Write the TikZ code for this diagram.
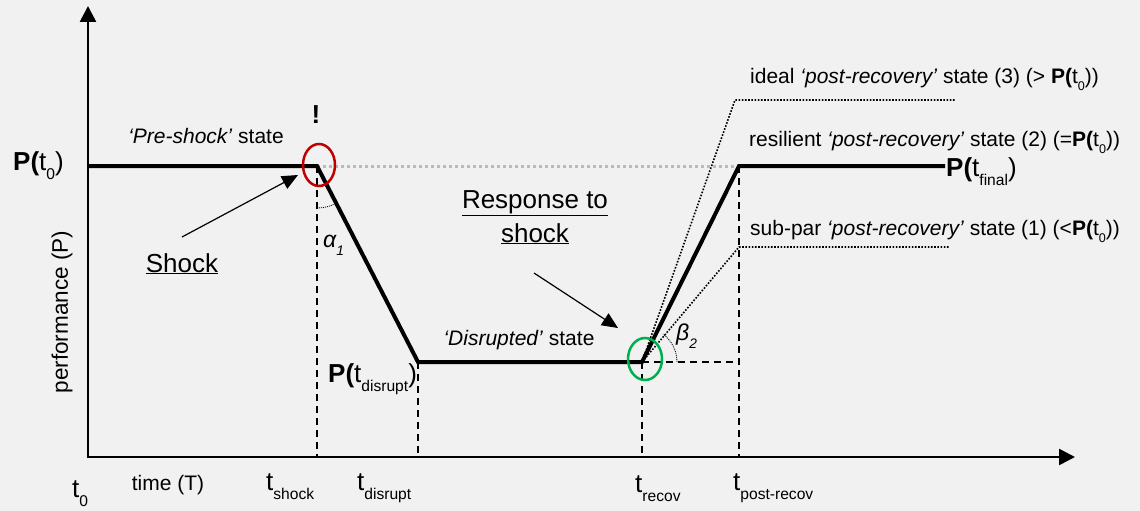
\documentclass[tikz,border=0pt]{standalone}
\usepackage{fontspec}
\setmainfont{Liberation Sans}
\usepackage{tikz}
\usetikzlibrary{arrows.meta,positioning}
\definecolor{bg}{HTML}{F1F1F1}
\definecolor{shockred}{HTML}{C00000}
\definecolor{recovgreen}{HTML}{00B050}
\newcommand{\lo}[1]{\raisebox{-0.35em}{\scalebox{0.6}{#1}}}
\tikzstyle{perf}=[line width=4pt]
\tikzstyle{axis}=[line width=2.6pt,
	{Triangle[length=16pt,width=16pt]}-{Triangle[length=16pt,width=16pt]}]
\tikzstyle{guide}=[line width=1.6pt,
	dash pattern=on 7pt off 5pt]
\tikzstyle{level}=[line width=3pt,
	draw=black!27,
	dash pattern=on 3pt off 3pt]
\tikzstyle{alt}=[line width=1.6pt,
	dash pattern=on 1.6pt off 1.6pt]
\tikzstyle{anglearc}=[line width=0.8pt,
	dash pattern=on 1pt off 1pt]
\tikzstyle{pointer}=[line width=1.2pt,
	-{Triangle[length=16pt,width=14pt]}]
\tikzstyle{ring}=[line width=2.5pt]
\tikzstyle{lbl}=[inner sep=0pt,
	font=\fontsize{21}{25}\selectfont]
\tikzstyle{biglbl}=[inner sep=0pt,
	font=\fontsize{26}{30}\selectfont]

\begin{document}
\begin{tikzpicture}[x=1pt,y=-1pt]
	\fill[bg] (0,0) rectangle (1140,511);
	\useasboundingbox (0,0) rectangle (1140,511);

	\coordinate (origin) at (88,457);
	\coordinate (ytip) at (88,6);
	\coordinate (xtip) at (1075,457);
	\coordinate (start) at (88,166);
	\coordinate (shock) at (317,166);
	\coordinate (disrupt) at (418,362);
	\coordinate (recov) at (642,362);
	\coordinate (post) at (739,166);
	\coordinate (final) at (945,166);
	\coordinate (ideal) at (735,100);
	\coordinate (idealend) at (955,100);
	\coordinate (subpar) at (739,247);
	\coordinate (subparend) at (950,247);

	% guides
	\draw[level] (shock) -- (post);
	\draw[guide] (shock) -- (shock |- origin);
	\draw[guide] (disrupt) -- (disrupt |- origin);
	\draw[guide] (recov) -- (recov |- origin);
	\draw[guide] (post) -- (post |- origin);
	\draw[guide] (recov) -- (post |- recov);
	\draw[alt] (recov) -- (ideal) -- (idealend);
	\draw[alt] (recov) -- (subpar) -- (subparend);
	\draw[anglearc] (shock) ++(90:42) arc[start angle=90,end angle=62.7,radius=42];
	\draw[anglearc] (recov) ++(0:35) arc[start angle=0,end angle=-53,radius=35];

	% axes and performance
	\draw[axis] (ytip) -- (origin) -- (xtip);
	\draw[perf] (start) -- (shock) -- (disrupt) -- (recov) -- (post) -- (final);
	\draw[ring, shockred] (319,165) ellipse [x radius=16, y radius=21];
	\draw[ring, recovgreen] (645,359) ellipse [x radius=17, y radius=21];

	% labels
	\node[lbl] (preshock) at (206,136) {\textit{‘Pre-shock’} state};
	\node[biglbl] (bang) at (316,115) {\textbf{!}};
	\node[biglbl, anchor=base east] (p0) at (64,170) {\textbf{P(}t\lo{0})};
	\node[biglbl, anchor=base] (shocklbl) at (182,272) {\underline{Shock}};
	\node[lbl, anchor=base west, font=\fontsize{23}{27}\selectfont] (alpha) at (323,247) {\textit{α\lo{1}}};
	\node[biglbl, anchor=base west] (pdisrupt) at (328,382) {\textbf{P(}t\lo{disrupt})};
	\node[biglbl, anchor=base] (response) at (535,208) {\underline{Response to}};
	\node[biglbl, anchor=base] (response2) at (535,242) {\underline{shock}};
	\node[lbl, anchor=base] (disrupted) at (519,345) {\textit{‘Disrupted’} state};
	\node[lbl, anchor=base west, font=\fontsize{23}{27}\selectfont] (beta) at (676,340) {\textit{β\lo{2}}};
	\node[biglbl, anchor=base west] (pfinal) at (946,176) {\textbf{P(}t\lo{final})};
	\node[lbl, anchor=base west] (idealstate) at (750,83) {ideal \textit{‘post-recovery’} state (3) (> \textbf{P(}t\lo{0}))};
	\node[lbl, anchor=base west] (resilient) at (749,146) {resilient \textit{‘post-recovery’} state (2) (=\textbf{P(}t\lo{0}))};
	\node[lbl, anchor=base west] (subparstate) at (750,235) {sub-par \textit{‘post-recovery’} state (1) (<\textbf{P(}t\lo{0}))};
	\node[lbl, rotate=90, font=\fontsize{22.5}{26}\selectfont] (perflbl) at (62,312) {performance (P)};

	\node[biglbl, anchor=base west] (t0) at (72,497) {t\lo{0}};
	\node[lbl, anchor=base] (timelbl) at (168,490) {time (T)};
	\node[biglbl, anchor=base west] (tshock) at (266,490) {t\lo{shock}};
	\node[biglbl, anchor=base west] (tdisrupt) at (357,490) {t\lo{disrupt}};
	\node[biglbl, anchor=base west] (trecov) at (635,492) {t\lo{recov}};
	\node[biglbl, anchor=base west] (tpost) at (733,490) {t\lo{post-recov}};

	% pointers
	\coordinate (shocktail) at (182,237);
	\coordinate (shockhead) at (298,175);
	\coordinate (resptail) at (534,273);
	\coordinate (resphead) at (618,328);
	\draw[pointer] (shocktail) -- (shockhead);
	\draw[pointer] (resptail) -- (resphead);
\end{tikzpicture}
\end{document}
